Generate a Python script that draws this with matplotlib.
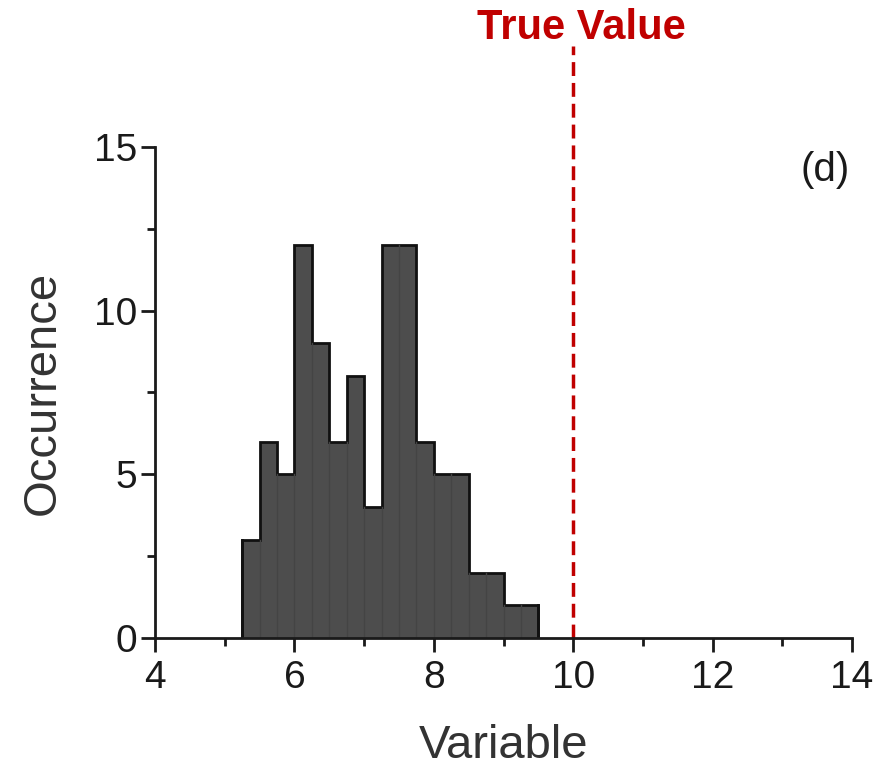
import matplotlib.pyplot as plt
import numpy as np

# histogram bins (width 0.25) and counts
bin_edges = np.arange(5.25, 9.5 + 0.001, 0.25)
counts = [3, 6, 5, 12, 9, 6, 8, 4, 12, 12, 6, 5, 5, 2, 2, 1, 1]
true_value = 10
x_ticks = [4, 6, 8, 10, 12, 14]
y_ticks = [0, 5, 10, 15]

plt.rcParams['font.family'] = ['Liberation Sans', 'DejaVu Sans']

fig = plt.figure(figsize=(8.83, 7.69), dpi=100)
ax = fig.add_axes([0.1755, 0.1704, 0.7895, 0.6384])

ax.stairs(counts, bin_edges, fill=True, facecolor='#4d4d4d', edgecolor='none')
ax.stairs(counts, bin_edges, baseline=0, color='#111111', linewidth=2)
# faint lines between bins
for i in range(1, len(counts)):
    ax.plot([bin_edges[i]] * 2, [0, min(counts[i - 1], counts[i])], color='#444444', lw=1)
ax.plot([bin_edges[0]] * 2, [0, counts[0]], color='#111111', lw=2)
ax.plot([bin_edges[-1]] * 2, [0, counts[-1]], color='#111111', lw=2)

ax.set_xlim(4, 14)
ax.set_ylim(0, 15)
ax.set_xticks(x_ticks)
ax.set_yticks(y_ticks)
ax.set_xticks(np.arange(5, 14, 2), minor=True)
ax.set_yticks([2.5, 7.5, 12.5], minor=True)
for s in ['top', 'right']:
    ax.spines[s].set_visible(False)
for s in ['left', 'bottom']:
    ax.spines[s].set_linewidth(2)
    ax.spines[s].set_color('#1a1a1a')
ax.tick_params(which='major', length=10, width=2, labelsize=28, color='#1a1a1a',
               labelcolor='#1a1a1a', pad=3)
ax.tick_params(axis='x', which='major', pad=6)
ax.tick_params(which='minor', length=6, width=2, color='#1a1a1a')

ax.set_xlabel('Variable', fontsize=34, color='#333333', labelpad=20)
ax.set_ylabel('Occurrence', fontsize=34, color='#333333', labelpad=21)
ax.text(13.61, 14.3, '(d)', fontsize=29, ha='center', va='center', color='#1a1a1a')

# true value marker
ax.plot([true_value, true_value], [0, 18.1], color='#c00000', lw=2.5,
        linestyle=(0, (4, 2)), clip_on=False)
ax.text(true_value + 0.12, 18.3, 'True Value', color='#c00000', fontsize=30,
        fontweight='bold', ha='center', va='baseline',
        family=['Liberation Sans Narrow', 'Liberation Sans'])

fig.savefig('out.png', dpi=100)
